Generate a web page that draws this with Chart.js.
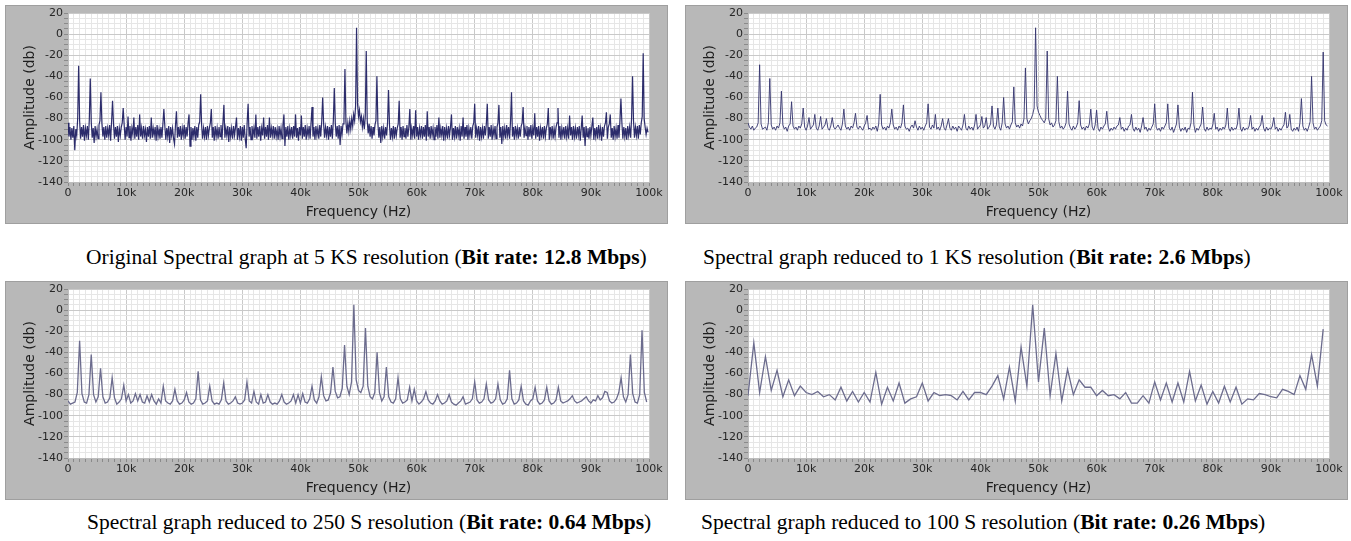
<!DOCTYPE html>
<html><head><meta charset="utf-8">
<script src="https://cdn.jsdelivr.net/npm/chart.js@4.4.1/dist/chart.umd.min.js"></script>
<style>
html,body{margin:0;padding:0;background:#fff;width:1351px;height:541px;overflow:hidden;position:relative;}
.panel{position:absolute;background:#b8b8b8;box-shadow:inset 0 0 0 1px #9f9f9f;}
.panel canvas{position:absolute;left:0;top:0;}
.cap{position:absolute;font-family:"Liberation Serif","Times New Roman",serif;font-size:21.5px;line-height:22px;white-space:nowrap;color:#000;}
</style></head><body>
<div class="panel" style="left:5px;top:5px;width:663px;height:219px"><canvas id="c1" width="663" height="219"></canvas></div>
<div class="panel" style="left:685px;top:5px;width:663px;height:219px"><canvas id="c2" width="663" height="219"></canvas></div>
<div class="panel" style="left:5px;top:281px;width:663px;height:219px"><canvas id="c3" width="663" height="219"></canvas></div>
<div class="panel" style="left:685px;top:281px;width:663px;height:219px"><canvas id="c4" width="663" height="219"></canvas></div>
<div class="cap" style="left:86px;top:246px">Original Spectral graph at 5 KS resolution (<b>Bit rate: 12.8 Mbps</b>)</div>
<div class="cap" style="left:703px;top:246px">Spectral graph reduced to 1 KS resolution (<b>Bit rate: 2.6 Mbps</b>)</div>
<div class="cap" style="left:87px;top:511px">Spectral graph reduced to 250 S resolution (<b>Bit rate: 0.64 Mbps</b>)</div>
<div class="cap" style="left:701px;top:511px">Spectral graph reduced to 100 S resolution (<b>Bit rate: 0.26 Mbps</b>)</div>
<script>
// X axis range and ticks (Hz)
const freqMin = 0, freqMax = 100000;
const freqMajorTicks = [0,10000,20000,30000,40000,50000,60000,70000,80000,90000,100000];
const ampMajorTicks = [20,0,-20,-40,-60,-80,-100,-120,-140];
const ampMin = -140, ampMax = 20;

// Frequency bin spacing (Hz) of each spectrum
const bin5KS = 100000/600;
const bin1KS = 250;
const bin250S = 400;
const bin100S = 1000;

// Amplitude (dB) — original 5 KS spectrum
const amp5KS = [
-84,-97,-88,-100,-89,-98,-87,-110,-90,-96,-80,-30,
-82,-99,-88,-97,-86,-101,-89,-96,-87,-100,-81,-42,
-83,-98,-89,-103,-87,-97,-90,-99,-86,-82,-55,-84,
-97,-88,-100,-87,-98,-89,-96,-86,-101,-83,-63,-85,
-99,-88,-97,-87,-102,-89,-96,-88,-84,-70,-86,-100,
-88,-97,-78,-98,-87,-101,-89,-95,-79,-99,-88,-97,
-86,-100,-76,-97,-89,-99,-87,-96,-90,-102,-88,-97,
-87,-99,-79,-98,-89,-96,-88,-101,-86,-97,-90,-99,
-88,-98,-85,-71,-87,-100,-89,-97,-87,-103,-88,-96,
-89,-99,-104,-86,-73,-98,-88,-97,-87,-100,-89,-96,
-86,-99,-88,-97,-84,-76,-106,-88,-100,-89,-97,-87,
-101,-88,-98,-86,-83,-57,-86,-99,-89,-97,-88,-100,
-87,-96,-89,-84,-71,-98,-88,-101,-87,-97,-89,-99,
-88,-97,-86,-100,-84,-67,-98,-89,-96,-87,-102,-88,
-97,-89,-99,-87,-96,-88,-79,-100,-89,-97,-87,-101,
-88,-98,-86,-99,-108,-84,-66,-97,-88,-100,-87,-96,
-89,-98,-76,-99,-88,-97,-87,-101,-89,-96,-79,-99,
-88,-97,-86,-100,-79,-98,-89,-96,-87,-99,-88,-97,
-90,-100,-87,-97,-89,-99,-86,-76,-106,-88,-97,-87,
-100,-89,-96,-88,-99,-87,-97,-76,-98,-89,-101,-88,
-96,-77,-99,-88,-97,-86,-100,-89,-96,-87,-99,-84,
-69,-97,-88,-100,-87,-96,-89,-99,-86,-97,-83,-60,
-85,-98,-88,-96,-87,-100,-88,-97,-86,-99,-82,-51,
-84,-97,-87,-99,-86,-105,-87,-95,-85,-80,-33,-83,
-94,-84,-92,-82,-90,-80,-87,-76,-82,-68,6,-66,
-78,-72,-83,-78,-88,-80,-90,-78,-16,-82,-94,-85,
-97,-87,-99,-88,-96,-86,-82,-40,-84,-98,-88,-103,
-87,-97,-89,-99,-88,-96,-84,-53,-86,-100,-89,-97,
-87,-99,-88,-96,-89,-85,-63,-98,-88,-100,-87,-97,
-89,-99,-86,-97,-88,-71,-100,-89,-96,-87,-99,-72,
-97,-88,-100,-89,-96,-87,-99,-88,-97,-86,-101,-73,
-97,-88,-99,-87,-96,-89,-100,-88,-97,-86,-99,-79,
-98,-89,-96,-87,-101,-88,-97,-89,-99,-87,-96,-88,
-76,-100,-89,-97,-87,-99,-88,-96,-89,-101,-87,-97,
-79,-99,-88,-97,-86,-100,-89,-96,-88,-99,-87,-84,
-66,-98,-89,-96,-87,-101,-88,-97,-89,-99,-87,-96,
-85,-66,-99,-88,-97,-86,-100,-89,-96,-87,-99,-88,
-84,-67,-98,-88,-104,-87,-97,-89,-99,-86,-96,-88,
-99,-83,-55,-97,-88,-100,-87,-96,-89,-99,-88,-97,
-87,-84,-69,-98,-89,-96,-87,-100,-88,-97,-86,-99,
-89,-96,-75,-99,-88,-97,-87,-101,-89,-96,-88,-99,
-87,-97,-89,-85,-70,-100,-88,-96,-87,-99,-89,-97,
-88,-84,-70,-98,-87,-100,-89,-96,-88,-99,-87,-97,
-89,-99,-77,-96,-88,-100,-87,-97,-89,-99,-88,-96,
-87,-101,-89,-77,-98,-88,-106,-87,-97,-89,-99,-88,
-96,-87,-79,-100,-89,-97,-88,-99,-86,-96,-89,-101,
-88,-97,-87,-84,-74,-99,-88,-85,-76,-98,-89,-100,
-87,-97,-89,-99,-86,-98,-82,-61,-84,-99,-88,-97,
-89,-100,-87,-96,-88,-98,-80,-40,-82,-98,-88,-96,
-87,-99,-86,-95,-84,-78,-18,-80,-88,-95,-89,-93
];

// Amplitude (dB) — reduced to 1 KS
const amp1KS = [
-84,-88,-90,-87,-91,-89,-88,-84,-29,-85,-90,-89,-88,-91,-84,-42,-86,-90,-88,-91,
-87,-89,-84,-54,-86,-90,-88,-92,-87,-85,-64,-87,-90,-88,-91,-87,-89,-85,-70,-88,
-91,-87,-79,-90,-88,-86,-76,-89,-91,-87,-78,-90,-88,-86,-80,-89,-91,-87,-79,-88,
-90,-88,-86,-89,-91,-85,-71,-87,-90,-88,-91,-87,-89,-84,-75,-88,-90,-87,-89,-91,
-87,-84,-77,-90,-89,-91,-88,-90,-87,-92,-85,-57,-86,-90,-88,-91,-87,-89,-84,-71,
-86,-90,-88,-91,-87,-89,-84,-67,-87,-90,-89,-92,-88,-86,-89,-82,-88,-91,-87,-90,
-88,-91,-87,-84,-66,-88,-90,-86,-89,-76,-90,-88,-91,-87,-80,-89,-91,-86,-80,-89,
-91,-87,-90,-88,-92,-87,-89,-91,-86,-76,-89,-91,-87,-90,-88,-91,-86,-76,-90,-88,
-86,-78,-89,-87,-79,-90,-88,-85,-68,-87,-90,-86,-70,-88,-91,-84,-60,-85,-89,-87,
-90,-86,-83,-50,-84,-88,-86,-89,-85,-87,-80,-32,-80,-85,-82,-80,-76,-70,6,-68,
-74,-77,-80,-82,-84,-80,-16,-80,-86,-84,-88,-86,-82,-40,-83,-89,-87,-90,-88,-84,
-54,-85,-89,-91,-87,-90,-88,-84,-63,-86,-90,-88,-91,-87,-89,-85,-71,-88,-91,-86,
-72,-89,-92,-88,-90,-87,-85,-73,-88,-92,-89,-91,-88,-90,-87,-86,-79,-90,-88,-92,
-89,-91,-87,-86,-76,-89,-92,-88,-91,-89,-93,-87,-79,-90,-88,-92,-89,-91,-88,-85,
-66,-88,-91,-89,-92,-88,-90,-87,-84,-66,-89,-91,-88,-93,-89,-85,-67,-88,-92,-89,
-91,-88,-93,-89,-90,-84,-55,-86,-93,-89,-91,-88,-85,-69,-89,-92,-88,-91,-89,-90,
-86,-75,-90,-88,-92,-89,-91,-88,-90,-86,-70,-89,-92,-88,-91,-89,-90,-85,-70,-89,
-92,-88,-91,-89,-90,-87,-77,-90,-88,-92,-89,-91,-88,-86,-77,-89,-92,-88,-91,-89,
-90,-87,-79,-90,-88,-92,-89,-91,-88,-86,-74,-89,-87,-76,-90,-92,-89,-91,-88,-92,
-84,-61,-87,-91,-89,-92,-88,-83,-40,-84,-90,-88,-91,-89,-87,-82,-17,-82,-86,-87
];

// Amplitude (dB) — reduced to 250 S
const amp250S = [
-86,-89,-88,-87,-78,-29,-79,-87,-88,-80,-42,-80,-87,-82,-55,-82,-88,-87,-83,-64,-83,-89,-87,-84,-71,
-86,-80,-88,-86,-79,-86,-80,-87,-88,-81,-87,-80,-86,-89,-84,-88,-72,-86,-88,-89,-86,-75,-86,-89,-88,
-85,-78,-87,-89,-88,-84,-58,-85,-89,-88,-86,-72,-86,-89,-88,-89,-85,-69,-86,-89,-88,-86,-82,-88,-89,
-88,-85,-68,-86,-88,-77,-87,-89,-80,-88,-87,-80,-87,-89,-88,-89,-86,-80,-87,-89,-88,-86,-80,-88,-80,
-88,-79,-87,-88,-84,-72,-85,-88,-82,-63,-81,-86,-85,-78,-54,-77,-83,-82,-74,-33,-72,-80,-68,5,-66,
-76,-78,-72,-17,-72,-82,-84,-78,-40,-78,-86,-82,-54,-82,-87,-88,-84,-64,-84,-88,-87,-85,-73,-86,-75,
-86,-89,-87,-84,-77,-85,-88,-89,-86,-80,-86,-89,-88,-86,-80,-87,-89,-90,-88,-86,-82,-89,-88,-87,-84,
-68,-85,-88,-87,-84,-70,-85,-88,-87,-84,-70,-85,-89,-88,-84,-57,-84,-89,-88,-85,-72,-86,-89,-90,-86,
-84,-73,-86,-89,-88,-85,-73,-86,-89,-88,-85,-73,-86,-88,-87,-86,-84,-81,-86,-88,-87,-86,-84,-82,-86,
-88,-85,-86,-81,-85,-83,-77,-78,-86,-88,-87,-84,-78,-64,-82,-87,-80,-42,-79,-87,-88,-80,-19,-78,-87
];

// Amplitude (dB) — reduced to 100 S
const amp100S = [
-81,-31,-78,-44,-76,-57,-82,-66,-81,-72,
-78,-80,-77,-82,-80,-85,-73,-86,-77,-87,
-78,-87,-59,-89,-73,-86,-69,-88,-84,-82,
-69,-86,-78,-81,-80,-81,-85,-77,-85,-78,
-78,-80,-72,-62,-84,-54,-86,-35,-72,5,
-68,-17,-81,-41,-86,-56,-80,-66,-73,-73,
-81,-76,-81,-80,-84,-78,-88,-88,-81,-88,
-68,-85,-69,-87,-69,-87,-58,-86,-71,-89,
-77,-88,-72,-87,-73,-89,-84,-85,-79,-80,
-82,-83,-75,-77,-80,-62,-75,-42,-72,-18
];

const bgPlugin = {
  id:'plotBg',
  beforeDraw(chart){
    const a = chart.chartArea, c = chart.ctx;
    c.save(); c.fillStyle = '#ffffff';
    c.fillRect(a.left, a.top, a.right-a.left, a.bottom-a.top);
    c.restore();
  }
};

function points(vals, step){ return vals.map((v,i)=>({x:i*step, y:v})); }

function makeChart(id, vals, step, color, width){
  const font = {family:'"DejaVu Sans", Verdana, sans-serif', size:11};
  const tfont = {family:'"DejaVu Sans", Verdana, sans-serif', size:14};
  new Chart(document.getElementById(id), {
    type:'line',
    data:{datasets:[{data:points(vals, step), borderColor:color, borderWidth:width,
      pointRadius:0, tension:0, fill:false}]},
    options:{
      responsive:false, animation:false, events:[],
      layout:{padding:{left:0, top:8, right:19, bottom:0}},
      plugins:{legend:{display:false}, tooltip:{enabled:false}},
      scales:{
        x:{type:'linear', min:freqMin, max:freqMax,
          afterBuildTicks(s){ const t=[]; for(let v=freqMin; v<=freqMax; v+=1000) t.push({value:v}); s.ticks=t; },
          afterFit(s){ s.height = 42; },
          ticks:{autoSkip:false, maxRotation:0, minRotation:0, padding:1, color:'#262626', font,
            callback(v){ return freqMajorTicks.includes(v) ? (v===0 ? '0' : (v/1000)+'k') : ''; }},
          grid:{color(ctx){ return (ctx.tick && ctx.tick.value % 10000 === 0) ? '#c9c9c9' : '#e6e6e6'; },
            lineWidth:1, drawTicks:true, tickLength:4, tickColor:'#8a8a8a'},
          border:{display:true, color:'#bdbdbd'},
          title:{display:true, text:'Frequency (Hz)', color:'#1e1e1e', font:tfont, padding:{top:0,bottom:3.6}}
        },
        y:{type:'linear', min:ampMin, max:ampMax,
          afterBuildTicks(s){ const t=[]; for(let v=ampMin; v<=ampMax; v+=5) t.push({value:v}); s.ticks=t; },
          afterFit(s){ s.width = 63; },
          ticks:{autoSkip:false, padding:1, color:'#262626', font,
            callback(v){ return ampMajorTicks.includes(v) ? String(v) : ''; }},
          grid:{color(ctx){ return (ctx.tick && ctx.tick.value % 20 === 0) ? '#c9c9c9' : '#e6e6e6'; },
            lineWidth:1, drawTicks:true, tickLength:4, tickColor:'#8a8a8a'},
          border:{display:true, color:'#bdbdbd'},
          title:{display:true, text:'Amplitude (db)', color:'#1e1e1e', font:tfont, padding:{top:16.6,bottom:0}}
        }
      }
    },
    plugins:[bgPlugin]
  });
}

makeChart('c1', amp5KS, bin5KS, 'rgba(22,22,92,0.9)', 1.2);
makeChart('c2', amp1KS, bin1KS, 'rgba(52,52,110,0.9)', 1);
makeChart('c3', amp250S, bin250S, '#6c6c8e', 1.3);
makeChart('c4', amp100S, bin100S, '#6c6c8e', 1.3);
</script>
</body></html>
